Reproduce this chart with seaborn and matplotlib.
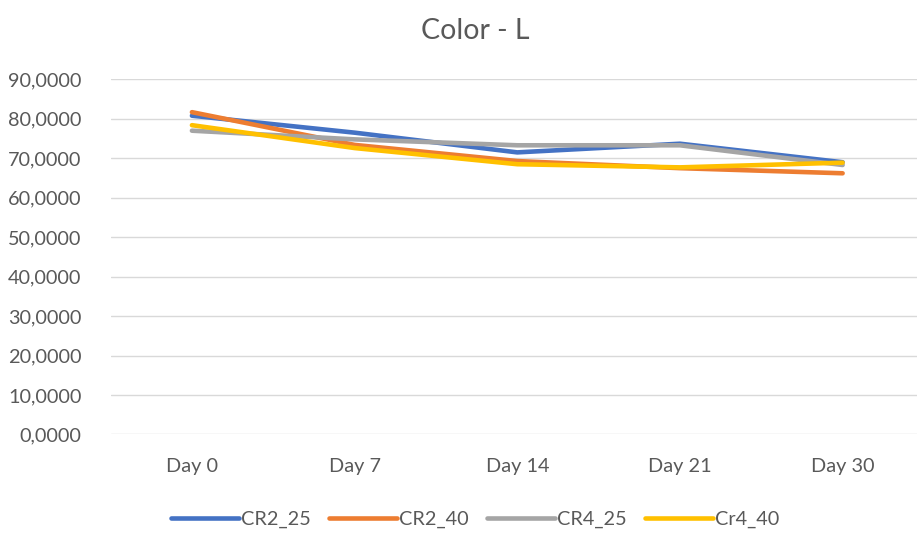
import matplotlib
matplotlib.use("Agg")
import matplotlib.pyplot as plt
import seaborn as sns
import pandas as pd
from matplotlib.ticker import FuncFormatter, MultipleLocator

days = ["Day 0", "Day 7", "Day 14", "Day 21", "Day 30"]
series_names = ["CR2_25", "CR2_40", "CR4_25", "Cr4_40"]
cr2_25 = [80.8, 76.5, 71.5, 73.7, 69.0]
cr2_40 = [81.7, 73.4, 69.3, 67.5, 66.2]
cr4_25 = [77.0, 74.8, 73.3, 73.3, 68.3]
cr4_40 = [78.4, 72.6, 68.5, 67.7, 68.9]
colors = ["#4472C4", "#ED7D31", "#A5A5A5", "#FFC000"]

sns.set_style("white")
plt.rcParams["font.family"] = ["Lato", "DejaVu Sans"]

rows = []
for name, vals in zip(series_names, [cr2_25, cr2_40, cr4_25, cr4_40]):
    for d, v in zip(days, vals):
        rows.append({"Day": d, "Series": name, "Value": v})
df = pd.DataFrame(rows)

fig = plt.figure(figsize=(9.17, 5.33), dpi=100)
ax = fig.add_axes([0.1206, 0.185, 0.887, 0.666])

sns.lineplot(data=df, x="Day", y="Value", hue="Series", hue_order=series_names,
             palette=colors, linewidth=3.3, ax=ax, sort=False, legend=True,
             solid_capstyle="round")

ax.set_xlim(-0.5, 4.5)
ax.set_ylim(0, 90)
ax.yaxis.set_major_locator(MultipleLocator(10))
ax.yaxis.set_major_formatter(FuncFormatter(lambda v, p: f"{v:.4f}".replace(".", ",")))
ax.grid(axis="y", color="#D9D9D9", linewidth=1.0)
ax.set_axisbelow(True)
for s in ax.spines.values():
    s.set_visible(False)
ax.tick_params(axis="both", length=0, labelsize=14.3, colors="#595959")
ax.tick_params(axis="y", pad=21)
ax.tick_params(axis="x", pad=17)
ax.set_xlabel("")
ax.set_ylabel("")

fig.text(0.518, 0.942, "Color - L", ha="center", va="center", fontsize=20.5, color="#595959")

handles, labels = ax.get_legend_handles_labels()
ax.legend(handles, labels, loc="center", bbox_to_anchor=(0.518, 0.026),
          bbox_transform=fig.transFigure, ncol=4, frameon=False, fontsize=14.3,
          handlelength=3.4, handletextpad=0.1, columnspacing=0.95, labelcolor="#595959")

fig.savefig("out.png", dpi=100)
